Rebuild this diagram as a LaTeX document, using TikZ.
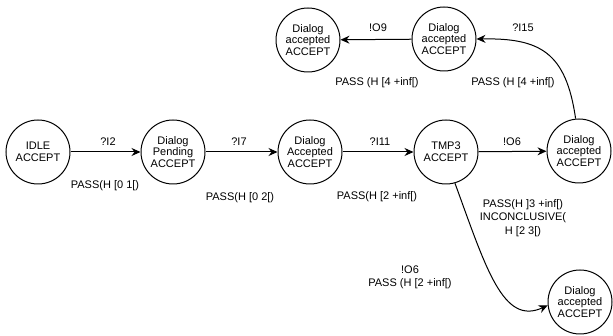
\documentclass[tikz,border=0pt]{standalone}
\usepackage{fontspec}
\setmainfont{Liberation Sans}
\usetikzlibrary{arrows.meta}
\begin{document}
\begin{tikzpicture}[x=1pt,y=-1pt,
  state/.style={circle,draw,line width=1pt,minimum size=64pt,inner sep=0pt,
    align=center,font=\fontsize{11}{11.7}\selectfont},
  lbl/.style={align=center,inner sep=0pt,font=\fontsize{11}{13.5}\selectfont},
  trans/.style={line width=1pt,-{Stealth[length=9pt,width=8pt,inset=3pt]}}]
\useasboundingbox (0,0) rectangle (613,336);

% states
\node[state] (idle)    at (38,152)  {IDLE\\ACCEPT};
\node[state] (pending) at (173,152) {Dialog\\Pending\\ACCEPT};
\node[state] (accd)    at (310,152) {Dialog\\Accepted\\ACCEPT};
\node[state] (tmp)     at (446,152) {TMP3\\ACCEPT};
\node[state] (right)   at (579,151) {Dialog\\accepted\\ACCEPT};
\node[state] (topmid)  at (444,39)  {Dialog\\accepted\\ACCEPT};
\node[state] (topleft) at (308,40)  {Dialog\\accepted\\ACCEPT};
\node[state] (bottom)  at (580,302) {Dialog\\accepted\\ACCEPT};

% transitions
\draw[trans] (idle) -- (pending);
\draw[trans] (pending) -- (accd);
\draw[trans] (accd) -- (tmp);
\draw[trans] (tmp) -- (right);
\draw[trans] (topmid) -- (topleft);
\draw[trans] (right.96) .. controls (566,52) and (540,38) .. (topmid.east);
\draw[trans] (tmp.-74) .. controls (486,268) and (503,326) .. (bottom.186);

% labels
\node[lbl] (l1) at (108,142) {?I2};
\node[lbl] (g1) at (105,186) {PASS(H [0 1[)};
\node[lbl] (l2) at (239,142) {?I7};
\node[lbl] (g2) at (240,198) {PASS(H [0 2[)};
\node[lbl] (l3) at (380,142) {?I11};
\node[lbl] (g3) at (377,197) {PASS(H [2 +inf[)};
\node[lbl] (l4) at (512,142) {!O6};
\node[lbl] (g4) at (523,218) {PASS(H ]3 +inf[)\\INCONCLUSIVE(\\H [2 3[)};
\node[lbl] (l5) at (410,277.5) {!O6\\PASS (H [2 +inf[)};
\node[lbl] (l6) at (378,28) {!O9};
\node[lbl] (l7) at (523,28) {?I15};
\node[lbl] (g6) at (377,83) {PASS (H [4 +inf[)};
\node[lbl] (g7) at (513,83) {PASS (H [4 +inf[)};
\end{tikzpicture}
\end{document}
